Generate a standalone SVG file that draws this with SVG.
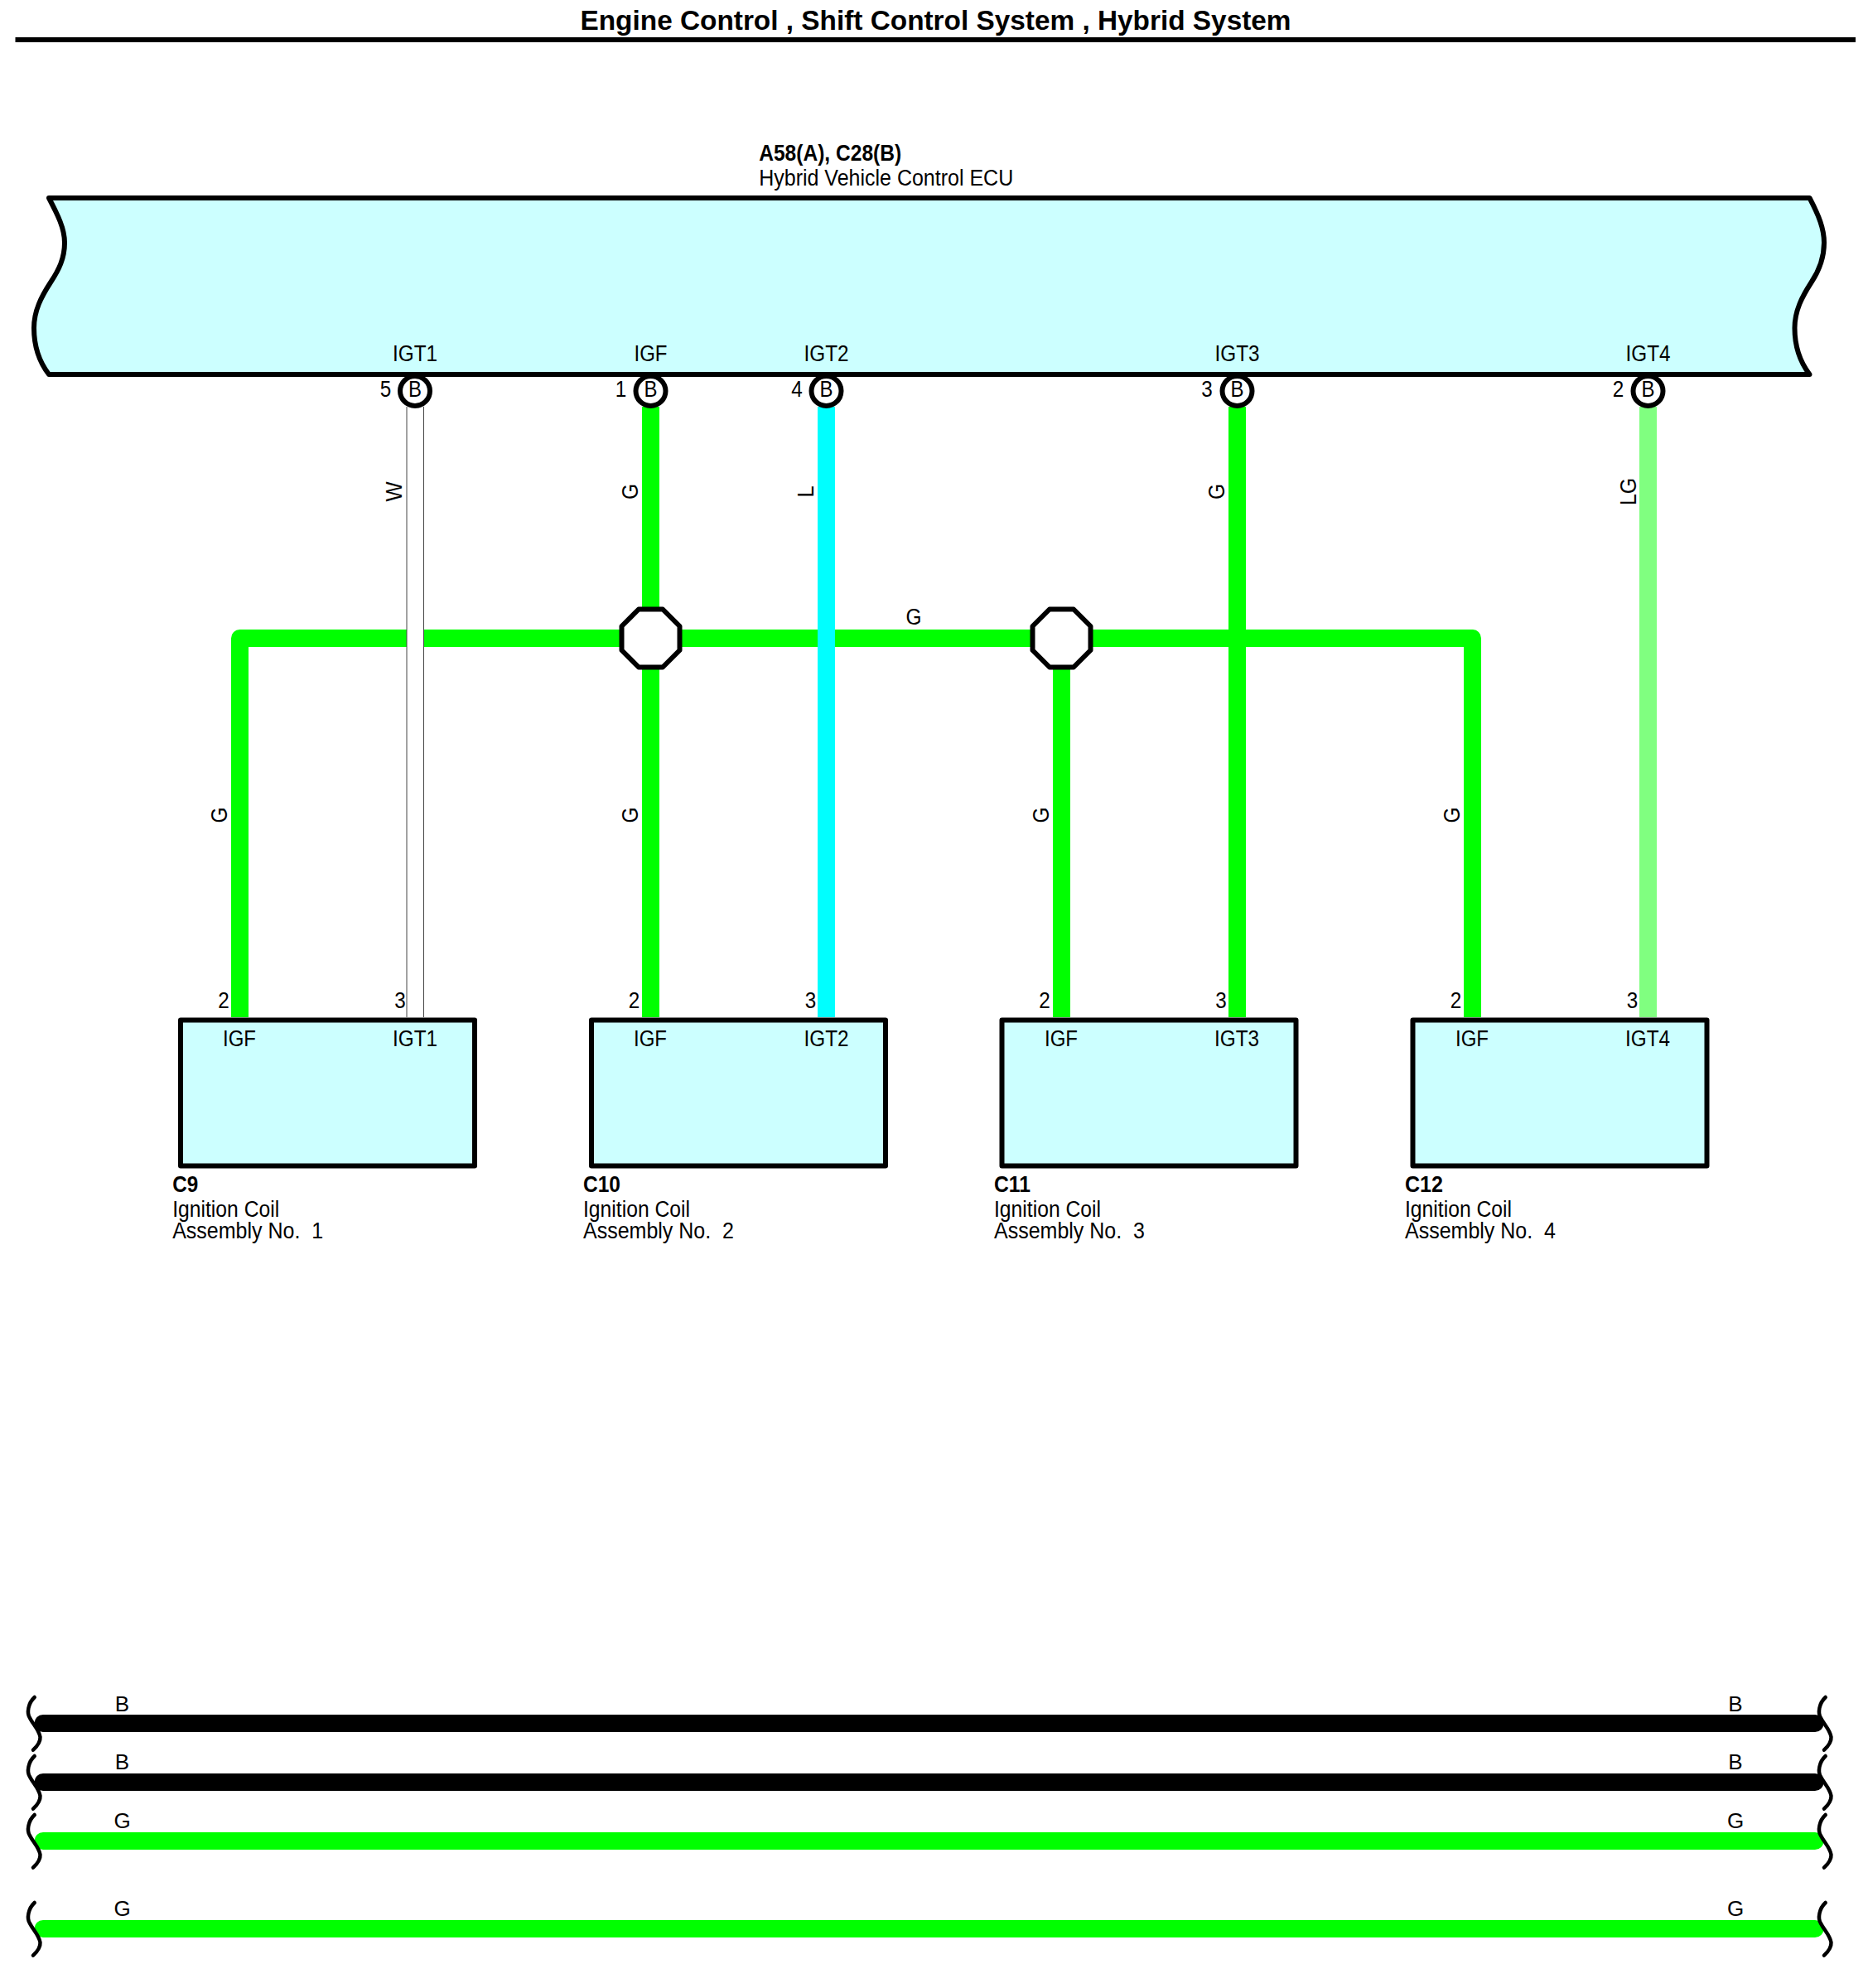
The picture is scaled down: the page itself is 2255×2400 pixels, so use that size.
<svg xmlns="http://www.w3.org/2000/svg" width="2255" height="2400" viewBox="0 0 2255 2400">
<style>
text{font-family:"Liberation Sans",Arial,sans-serif;font-size:27px;fill:#000;white-space:pre}
.m{text-anchor:middle}
.b{font-weight:bold}
.t{font-size:33px;font-weight:bold}
.s{font-size:26px}
.body{fill:#ccffff;stroke:#000;stroke-width:6;stroke-linejoin:round}
.w{fill:none;stroke-width:21;stroke-linejoin:round}
.g{stroke:#00ff00}.l{stroke:#00ffff}.lg{stroke:#80ff80}.k{stroke:#000}
.end{stroke-linecap:round}
.sq{fill:none;stroke:#000;stroke-width:4.5;stroke-linecap:round}
.pin{fill:#fff;stroke:#000;stroke-width:6}
.oct{fill:#fff;stroke:#000;stroke-width:6;stroke-linejoin:round}
</style>
<defs>
<path id="sq" class="sq" d="M41.7,2049C34,2056 32,2068 36,2074C40,2082 47,2088 48.5,2097C49,2103 45,2108 40,2112.7"/>
</defs>
<rect width="2255" height="2400" fill="#fff"/>
<g id="title">
<text class="t" x="700.500" y="36" textLength="858" lengthAdjust="spacingAndGlyphs">Engine Control , Shift Control System , Hybrid System</text>
<rect x="18.500" y="45" width="2221.500" height="6"/>
</g>
<g id="connectors">
<path class="w g" d="M289.500,1228V770.500H1777.500V1228"/>
<path class="w g" d="M785.500,491V1228"/>
<path class="w g" d="M1281.500,770.500V1228"/>
<path class="w g" d="M1493.500,491V1228"/>
<path class="w l" d="M997.500,491V1228"/>
<path class="w lg" d="M1989.500,491V1228"/>
<rect x="491" y="491" width="20.500" height="737" fill="#fff"/>
<path d="M491,491V1228M511.500,491V1228" fill="none" stroke="#444" stroke-width="1"/>
<g>
<text class="m" transform="translate(485,593.500) rotate(-90)" textLength="24" lengthAdjust="spacingAndGlyphs">W</text>
<text class="m" transform="translate(770,593.500) rotate(-90)" textLength="19" lengthAdjust="spacingAndGlyphs">G</text>
<text class="m" transform="translate(982,593.500) rotate(-90)" textLength="14" lengthAdjust="spacingAndGlyphs">L</text>
<text class="m" transform="translate(1478,593.500) rotate(-90)" textLength="19" lengthAdjust="spacingAndGlyphs">G</text>
<text class="m" transform="translate(1975,593.500) rotate(-90)" textLength="33" lengthAdjust="spacingAndGlyphs">LG</text>
<text class="m" transform="translate(274,984) rotate(-90)" textLength="19" lengthAdjust="spacingAndGlyphs">G</text>
<text class="m" transform="translate(770,984) rotate(-90)" textLength="19" lengthAdjust="spacingAndGlyphs">G</text>
<text class="m" transform="translate(1266,984) rotate(-90)" textLength="19" lengthAdjust="spacingAndGlyphs">G</text>
<text class="m" transform="translate(1762,984) rotate(-90)" textLength="19" lengthAdjust="spacingAndGlyphs">G</text>
<text class="m" x="1103" y="754" textLength="19" lengthAdjust="spacingAndGlyphs">G</text>
</g>
<g id="splice-1"><polygon class="oct" points="771,735.500 800,735.500 820.500,756 820.500,785 800,805.500 771,805.500 750.500,785 750.500,756"/></g>
<g id="splice-2"><polygon class="oct" points="1267,735.500 1296,735.500 1316.500,756 1316.500,785 1296,805.500 1267,805.500 1246.500,785 1246.500,756"/></g>
<g id="bus-lines">
<path class="w k end" d="M52,2080.500H2191"/>
<path class="w k end" d="M52,2151.500H2191"/>
<path class="w g end" d="M52,2222.500H2191"/>
<path class="w g end" d="M52,2328.500H2191"/>
<use href="#sq"/><use href="#sq" transform="translate(0,71)"/><use href="#sq" transform="translate(0,142)"/><use href="#sq" transform="translate(0,248)"/>
<use href="#sq" transform="translate(2162,0)"/><use href="#sq" transform="translate(2162,71)"/><use href="#sq" transform="translate(2162,142)"/><use href="#sq" transform="translate(2162,248)"/>
<text class="m s" x="147.500" y="2065.500">B</text><text class="m s" x="2095" y="2065.500">B</text>
<text class="m s" x="147.500" y="2136">B</text><text class="m s" x="2095" y="2136">B</text>
<text class="m s" x="147.500" y="2207">G</text><text class="m s" x="2095" y="2207">G</text>
<text class="m s" x="147.500" y="2313">G</text><text class="m s" x="2095" y="2313">G</text>
</g>
</g>
<g id="ecu">
<text class="b" x="916.200" y="193.500" textLength="172" lengthAdjust="spacingAndGlyphs">A58(A), C28(B)</text>
<text x="916.200" y="223.500" textLength="307" lengthAdjust="spacingAndGlyphs">Hybrid Vehicle Control ECU</text>
<path class="body" d="M59,239C70,260 78,276 78,293C78,312 71,326 61,341C50,358 41,375 41,396C41,415 46,435 59,452H2184.500C2171.500,435 2166.500,415 2166.500,396C2166.500,375 2175.500,358 2186.500,341C2196.500,326 2202,312 2202,293C2202,276 2195.500,260 2184.500,239Z"/>
<text class="m" x="501" y="436" textLength="54" lengthAdjust="spacingAndGlyphs">IGT1</text>
<text class="m" x="785.500" y="436" textLength="40" lengthAdjust="spacingAndGlyphs">IGF</text>
<text class="m" x="997.500" y="436" textLength="54" lengthAdjust="spacingAndGlyphs">IGT2</text>
<text class="m" x="1493.500" y="436" textLength="54" lengthAdjust="spacingAndGlyphs">IGT3</text>
<text class="m" x="1989.500" y="436" textLength="54" lengthAdjust="spacingAndGlyphs">IGT4</text>
<circle class="pin" cx="501" cy="472" r="18"/><text class="m" x="501" y="479" textLength="16" lengthAdjust="spacingAndGlyphs">B</text><text class="m" x="465.500" y="479" textLength="13.500" lengthAdjust="spacingAndGlyphs">5</text>
<circle class="pin" cx="785.500" cy="472" r="18"/><text class="m" x="785.500" y="479" textLength="16" lengthAdjust="spacingAndGlyphs">B</text><text class="m" x="749.500" y="479" textLength="13.500" lengthAdjust="spacingAndGlyphs">1</text>
<circle class="pin" cx="997.500" cy="472" r="18"/><text class="m" x="997.500" y="479" textLength="16" lengthAdjust="spacingAndGlyphs">B</text><text class="m" x="962" y="479" textLength="13.500" lengthAdjust="spacingAndGlyphs">4</text>
<circle class="pin" cx="1493.500" cy="472" r="18"/><text class="m" x="1493.500" y="479" textLength="16" lengthAdjust="spacingAndGlyphs">B</text><text class="m" x="1457" y="479" textLength="13.500" lengthAdjust="spacingAndGlyphs">3</text>
<circle class="pin" cx="1989.500" cy="472" r="18"/><text class="m" x="1989.500" y="479" textLength="16" lengthAdjust="spacingAndGlyphs">B</text><text class="m" x="1953.500" y="479" textLength="13.500" lengthAdjust="spacingAndGlyphs">2</text>
</g>
<g id="c9">
<rect class="body" x="218" y="1231.500" width="355" height="176"/>
<text class="m" x="270" y="1217" textLength="13.500" lengthAdjust="spacingAndGlyphs">2</text><text class="m" x="483" y="1217" textLength="13.500" lengthAdjust="spacingAndGlyphs">3</text>
<text class="m" x="289" y="1263" textLength="40" lengthAdjust="spacingAndGlyphs">IGF</text><text class="m" x="501" y="1263" textLength="54" lengthAdjust="spacingAndGlyphs">IGT1</text>
<text class="b" x="208.200" y="1439" textLength="31" lengthAdjust="spacingAndGlyphs">C9</text>
<text x="208.200" y="1469" textLength="129" lengthAdjust="spacingAndGlyphs">Ignition Coil</text>
<text x="208.200" y="1495" textLength="182" lengthAdjust="spacingAndGlyphs">Assembly No.  1</text>
</g>
<g id="c10">
<rect class="body" x="714" y="1231.500" width="355" height="176"/>
<text class="m" x="765.500" y="1217" textLength="13.500" lengthAdjust="spacingAndGlyphs">2</text><text class="m" x="978.500" y="1217" textLength="13.500" lengthAdjust="spacingAndGlyphs">3</text>
<text class="m" x="785" y="1263" textLength="40" lengthAdjust="spacingAndGlyphs">IGF</text><text class="m" x="997.500" y="1263" textLength="54" lengthAdjust="spacingAndGlyphs">IGT2</text>
<text class="b" x="704" y="1439" textLength="45" lengthAdjust="spacingAndGlyphs">C10</text>
<text x="704" y="1469" textLength="129" lengthAdjust="spacingAndGlyphs">Ignition Coil</text>
<text x="704" y="1495" textLength="182" lengthAdjust="spacingAndGlyphs">Assembly No.  2</text>
</g>
<g id="c11">
<rect class="body" x="1209.500" y="1231.500" width="355" height="176"/>
<text class="m" x="1261" y="1217" textLength="13.500" lengthAdjust="spacingAndGlyphs">2</text><text class="m" x="1474" y="1217" textLength="13.500" lengthAdjust="spacingAndGlyphs">3</text>
<text class="m" x="1281" y="1263" textLength="40" lengthAdjust="spacingAndGlyphs">IGF</text><text class="m" x="1493" y="1263" textLength="54" lengthAdjust="spacingAndGlyphs">IGT3</text>
<text class="b" x="1200" y="1439" textLength="44" lengthAdjust="spacingAndGlyphs">C11</text>
<text x="1200" y="1469" textLength="129" lengthAdjust="spacingAndGlyphs">Ignition Coil</text>
<text x="1200" y="1495" textLength="182" lengthAdjust="spacingAndGlyphs">Assembly No.  3</text>
</g>
<g id="c12">
<rect class="body" x="1705.500" y="1231.500" width="355" height="176"/>
<text class="m" x="1757.500" y="1217" textLength="13.500" lengthAdjust="spacingAndGlyphs">2</text><text class="m" x="1970.500" y="1217" textLength="13.500" lengthAdjust="spacingAndGlyphs">3</text>
<text class="m" x="1777" y="1263" textLength="40" lengthAdjust="spacingAndGlyphs">IGF</text><text class="m" x="1989" y="1263" textLength="54" lengthAdjust="spacingAndGlyphs">IGT4</text>
<text class="b" x="1696" y="1439" textLength="46" lengthAdjust="spacingAndGlyphs">C12</text>
<text x="1696" y="1469" textLength="129" lengthAdjust="spacingAndGlyphs">Ignition Coil</text>
<text x="1696" y="1495" textLength="182" lengthAdjust="spacingAndGlyphs">Assembly No.  4</text>
</g>
</svg>
